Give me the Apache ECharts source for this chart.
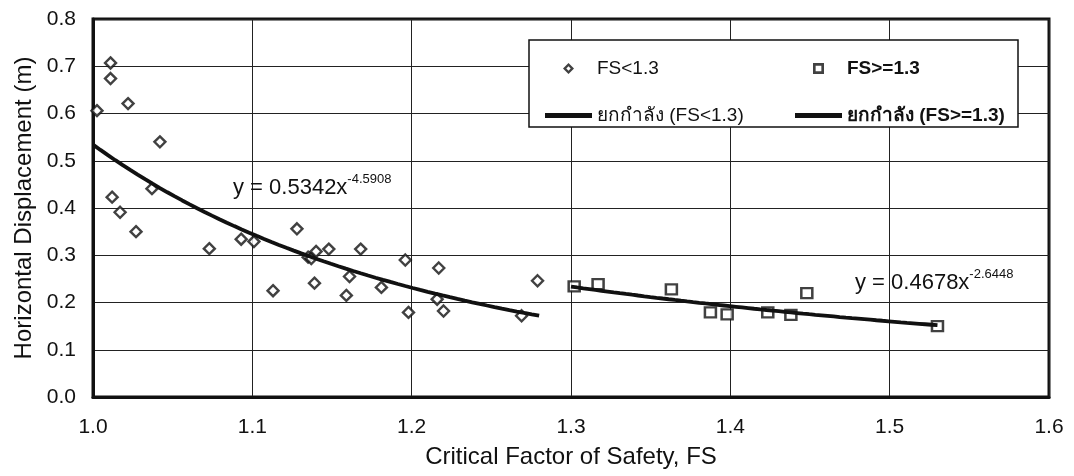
<!DOCTYPE html>
<html>
<head>
<meta charset="utf-8">
<script src="https://cdn.jsdelivr.net/npm/echarts@6/dist/echarts.min.js"></script>
<style>
  html, body { margin: 0; padding: 0; background: #ffffff; }
  #chart { width: 1074px; height: 476px; }
</style>
</head>
<body>
<div id="chart"></div>
<script>
// Critical factor of safety (FS) vs horizontal displacement (m)
const fsBelow13 = [
  [1.0025, 0.606], [1.011, 0.707], [1.011, 0.674], [1.022, 0.621], [1.042, 0.540],
  [1.037, 0.441], [1.012, 0.423], [1.017, 0.391], [1.027, 0.350], [1.073, 0.314],
  [1.093, 0.334], [1.101, 0.329], [1.113, 0.225], [1.128, 0.356], [1.135, 0.296],
  [1.137, 0.293], [1.139, 0.241], [1.140, 0.308], [1.148, 0.313], [1.161, 0.255],
  [1.159, 0.215], [1.168, 0.313], [1.181, 0.232], [1.196, 0.290], [1.198, 0.179],
  [1.217, 0.273], [1.216, 0.207], [1.220, 0.182], [1.269, 0.172], [1.279, 0.246]
];
const fsAbove13 = [
  [1.302, 0.234], [1.317, 0.239], [1.363, 0.228], [1.3875, 0.179], [1.398, 0.175],
  [1.4235, 0.179], [1.438, 0.174], [1.448, 0.220], [1.530, 0.150]
];

// Power trend lines y = a * x^b, with the fitted range of FS
const fitBelow = { a: 0.5342, b: -4.5908, from: 1.0, to: 1.28 };
const fitAbove = { a: 0.4678, b: -2.6448, from: 1.30, to: 1.53 };

const seriesNames = ['FS<1.3', 'FS>=1.3', 'ยกกำลัง (FS<1.3)', 'ยกกำลัง (FS>=1.3)'];
const xTicks = ['1.0', '1.1', '1.2', '1.3', '1.4', '1.5', '1.6'];
const yTicks = ['0.0', '0.1', '0.2', '0.3', '0.4', '0.5', '0.6', '0.7', '0.8'];

function powerCurve(fit) {
  const pts = [];
  const n = 60;
  for (let i = 0; i <= n; i++) {
    const x = fit.from + (fit.to - fit.from) * i / n;
    pts.push([x, fit.a * Math.pow(x, fit.b)]);
  }
  return pts;
}

const FONT = '"Liberation Sans", Arial, "DejaVu Sans", sans-serif';
const INK = '#111111';

const chart = echarts.init(document.getElementById('chart'), null, { renderer: 'canvas' });

// Legend icons: hollow marker rings and a thick bar for the trend lines
const diamondIcon = 'path://M5,0 L10,5 L5,10 L0,5 Z M5,3 L3,5 L5,7 L7,5 Z';
const squareIcon = 'path://M0,0 L10,0 L10,10 L0,10 Z M2.4,2.4 L2.4,7.6 L7.6,7.6 L7.6,2.4 Z';
const barIcon = 'path://M0,0 L47,0 L47,5 L0,5 Z';

const eqRich = {
  m: { fontSize: 22, fontFamily: FONT, fill: INK, verticalAlign: 'bottom', lineHeight: 28 },
  s: { fontSize: 13, fontFamily: FONT, fill: INK, verticalAlign: 'bottom', lineHeight: 28, padding: [0, 0, 13, 0] }
};

const markerLegendStyle = { color: INK, borderWidth: 0 };

const option = {
  backgroundColor: '#ffffff',
  animation: false,
  textStyle: { fontFamily: FONT, color: INK },
  grid: {
    left: 93, right: 25, top: 19, bottom: 79,
    show: true, borderColor: INK, borderWidth: 3, backgroundColor: 'transparent'
  },
  xAxis: {
    type: 'value', min: 1.0, max: 1.6, interval: 0.1,
    name: 'Critical Factor of Safety, FS', nameLocation: 'middle', nameGap: 48,
    nameTextStyle: { fontSize: 24, color: INK, fontFamily: FONT },
    axisLine: { show: true, lineStyle: { color: INK, width: 3 } },
    axisTick: { show: false },
    axisLabel: {
      margin: 20, fontSize: 21, color: INK, fontFamily: FONT,
      formatter: (v) => xTicks[Math.round((v - 1.0) * 10)]
    },
    splitLine: { show: true, lineStyle: { color: '#222222', width: 1 } }
  },
  yAxis: {
    type: 'value', min: 0, max: 0.8, interval: 0.1,
    name: 'Horizontal Displacement (m)', nameLocation: 'middle', nameGap: 55,
    nameTextStyle: { fontSize: 24, color: INK, fontFamily: FONT },
    axisLine: { show: true, lineStyle: { color: INK, width: 3 } },
    axisTick: { show: false },
    axisLabel: {
      margin: 17, fontSize: 21, color: INK, fontFamily: FONT,
      formatter: (v) => yTicks[Math.round(v * 10)]
    },
    splitLine: { show: true, lineStyle: { color: '#222222', width: 1 } }
  },
  legend: [
    {
      left: 540, top: 54, orient: 'vertical', itemGap: 28,
      itemWidth: 47, itemHeight: 11, symbolKeepAspect: true,
      textStyle: { fontSize: 19, color: INK, fontFamily: FONT },
      data: [
        { name: seriesNames[0], icon: diamondIcon, itemStyle: markerLegendStyle },
        { name: seriesNames[2], icon: barIcon }
      ],
      selectedMode: false, z: 6
    },
    {
      left: 790, top: 54, orient: 'vertical', itemGap: 28,
      itemWidth: 47, itemHeight: 11, symbolKeepAspect: true,
      textStyle: { fontSize: 19, color: INK, fontFamily: FONT, fontWeight: 'bold' },
      data: [
        { name: seriesNames[1], icon: squareIcon, itemStyle: markerLegendStyle },
        { name: seriesNames[3], icon: barIcon }
      ],
      selectedMode: false, z: 6
    }
  ],
  graphic: [
    {
      type: 'rect', z: 5, silent: true,
      shape: { x: 529, y: 40, width: 489, height: 87 },
      style: { fill: '#ffffff', stroke: INK, lineWidth: 1.5 }
    },
    {
      type: 'text', z: 5, silent: true, left: 233, top: 173,
      style: { text: '{m|y = 0.5342x}{s|-4.5908}', rich: eqRich }
    },
    {
      type: 'text', z: 5, silent: true, left: 855, top: 268,
      style: { text: '{m|y = 0.4678x}{s|-2.6448}', rich: eqRich }
    }
  ],
  series: [
    {
      name: seriesNames[0], type: 'scatter', data: fsBelow13,
      symbol: 'diamond', symbolSize: [11, 11], z: 3,
      itemStyle: { color: '#ffffff', borderColor: INK, borderWidth: 2.4 }
    },
    {
      name: seriesNames[1], type: 'scatter', data: fsAbove13,
      symbol: 'rect', symbolSize: [11, 10], z: 3,
      itemStyle: { color: '#ffffff', borderColor: INK, borderWidth: 2.4 }
    },
    {
      name: seriesNames[2], type: 'line', data: powerCurve(fitBelow),
      showSymbol: false, smooth: false, z: 4, color: INK,
      lineStyle: { color: INK, width: 3.8 }, itemStyle: { color: INK }
    },
    {
      name: seriesNames[3], type: 'line', data: powerCurve(fitAbove),
      showSymbol: false, smooth: false, z: 4, color: INK,
      lineStyle: { color: INK, width: 3.8 }, itemStyle: { color: INK }
    }
  ]
};

chart.setOption(option);
</script>
</body>
</html>
